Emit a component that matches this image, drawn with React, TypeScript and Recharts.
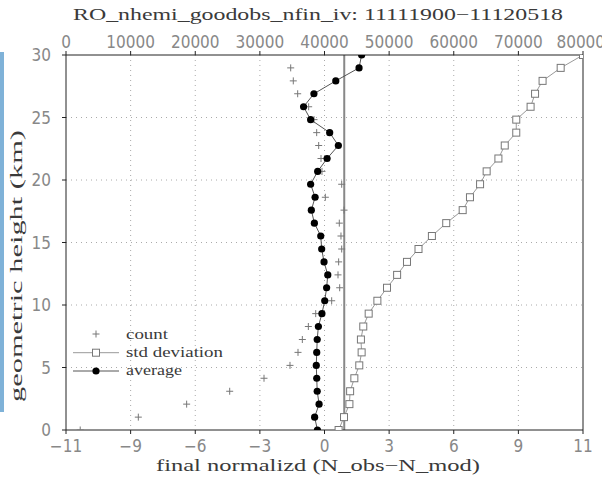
import { ScatterChart, Scatter, XAxis, YAxis, CartesianGrid, ReferenceLine } from 'recharts';

// levels (km) where the profile was sampled
const heights = [0, 1.03, 2.07, 3.1, 4.14, 5.17, 6.21, 7.24, 8.28, 9.31, 10.34, 11.38, 12.41, 13.45, 14.48, 15.52, 16.55, 17.59, 18.62, 19.66, 20.69, 21.72, 22.76, 23.79, 24.83, 25.86, 26.9, 27.93, 28.97, 30];
const average = [-0.3, -0.42, -0.23, -0.31, -0.33, -0.35, -0.33, -0.31, -0.26, -0.11, 0.01, 0.09, 0.14, -0.02, -0.12, -0.16, -0.43, -0.56, -0.4, -0.59, -0.29, 0.11, 0.59, 0.22, -0.59, -0.89, -0.45, 0.48, 1.47, 1.58];
const stdDev = [0.6, 0.83, 1.06, 1.09, 1.27, 1.48, 1.58, 1.55, 1.65, 1.88, 2.25, 2.66, 3.09, 3.51, 4.0, 4.57, 5.18, 5.88, 6.19, 6.62, 6.9, 7.4, 7.67, 8.16, 8.16, 8.77, 8.96, 9.28, 10.05, 11.0];
const count: (number | null)[] = [2200, 11190, 18670, 25330, 30640, 34660, 35900, 36570, 37500, 38640, 41110, 42350, 42090, 42190, 42660, 42550, 42290, 43020, 40130, 42660, 39610, 39460, 39100, 38790, 38380, 37550, 35850, 35170, 34770, null];

const bottomTicks = [-11, -8.25, -5.5, -2.75, 0, 2.75, 5.5, 8.25, 11];
const bottomLabels = ['-11', '-9', '-6', '-3', '0', '3', '6', '9', '11'];
const topTicks = [0, 10000, 20000, 30000, 40000, 50000, 60000, 70000, 80000];
const heightTicks = [0, 5, 10, 15, 20, 25, 30];
const refX = 0.84;

const avgRows = heights.map((h, i) => ({ h, v: average[i] }));
const stdRows = heights.map((h, i) => ({ h, v: stdDev[i] }));
const countRows = heights
  .map((h, i) => ({ h, c: count[i] }))
  .filter((r) => r.c !== null);

const tickFont = "'Liberation Sans Narrow', 'DejaVu Sans Condensed', 'Liberation Sans', sans-serif";
const tickStyle = { fontFamily: tickFont, fontSize: 17, fill: '#888' };
const serif = "'Liberation Serif', 'DejaVu Serif', serif";
const textCol = '#3a3a3a';

const Plus = (p: any) => (
  <g stroke="#777" strokeWidth={1}>
    <line x1={p.cx - 3.5} x2={p.cx + 3.5} y1={p.cy} y2={p.cy} />
    <line x1={p.cx} x2={p.cx} y1={p.cy - 3.5} y2={p.cy + 3.5} />
  </g>
);
const Square = (p: any) => (
  <rect x={p.cx - 3.5} y={p.cy - 3.5} width={7} height={7} fill="#fff" stroke="#777" strokeWidth={1} />
);
const Dot = (p: any) => <circle cx={p.cx} cy={p.cy} r={3.6} fill="#000" />;

export default function App() {
  return (
    <div style={{ position: 'absolute', left: 0, top: 0, width: 602, height: 481, background: '#fff' }}>
      <div style={{ position: 'absolute', left: 0, top: 52, width: 4, height: 360, background: '#7fb2d8' }} />
      <ScatterChart width={602} height={481} margin={{ top: 25, right: 19, bottom: 21, left: 26 }}>
        <CartesianGrid xAxisId="b" stroke="#aaa" strokeDasharray="1 4" verticalValues={bottomTicks.slice(1, -1)} horizontalValues={heightTicks.slice(1, -1)} />
        <XAxis
          xAxisId="b"
          type="number"
          dataKey="v"
          orientation="bottom"
          domain={[-11, 11]}
          ticks={bottomTicks}
          tickFormatter={(v: number) => bottomLabels[bottomTicks.indexOf(v)].replace('-', '\u2212')}
          height={30}
          tickSize={4}
          tickMargin={6}
          stroke="#222"
          tick={tickStyle}
          allowDataOverflow
        />
        <XAxis
          xAxisId="t"
          type="number"
          dataKey="c"
          orientation="top"
          domain={[0, 80000]}
          ticks={topTicks}
          height={30}
          tickSize={4}
          tickMargin={3}
          stroke="#222"
          tick={tickStyle}
          allowDataOverflow
        />
        <YAxis
          type="number"
          dataKey="h"
          domain={[0, 30]}
          ticks={heightTicks}
          width={40}
          tickSize={4}
          tickMargin={11}
          stroke="#222"
          tick={tickStyle}
          allowDataOverflow
        />
        <ReferenceLine xAxisId="b" x={11} stroke="#222" strokeWidth={1} />
        <ReferenceLine xAxisId="b" x={refX} stroke="#888" strokeWidth={2} />
        <Scatter xAxisId="t" data={countRows} shape={Plus} isAnimationActive={false} />
        <Scatter xAxisId="b" data={stdRows} shape={Square} line={{ stroke: '#999', strokeWidth: 1 }} isAnimationActive={false} />
        <Scatter xAxisId="b" data={avgRows} shape={Dot} line={{ stroke: '#555', strokeWidth: 1 }} isAnimationActive={false} />
      </ScatterChart>
      <svg width={602} height={481} style={{ position: 'absolute', left: 0, top: 0, pointerEvents: 'none' }}>
        <text x={73} y={20} fontFamily={serif} fontSize={17} fill={textCol} textLength={490} lengthAdjust="spacingAndGlyphs">
          RO_nhemi_goodobs_nfin_iv: 11111900−11120518
        </text>
        <text x={156} y={471} fontFamily={serif} fontSize={17} fill={textCol} textLength={324} lengthAdjust="spacingAndGlyphs">
          final normalizd (N_obs−N_mod)
        </text>
        <text
          transform="translate(22,402) rotate(-90)"
          fontFamily={serif}
          fontSize={17}
          fill={textCol}
          textLength={272}
          lengthAdjust="spacingAndGlyphs"
        >
          geometric height (km)
        </text>
        <g stroke="#777">
          <line x1={92.5} x2={99.5} y1={334} y2={334} />
          <line x1={96} x2={96} y1={330.5} y2={337.5} />
        </g>
        <line x1={73} x2={119} y1={352.7} y2={352.7} stroke="#999" />
        <rect x={92.5} y={349.2} width={7} height={7} fill="#fff" stroke="#777" />
        <line x1={73} x2={119} y1={371} y2={371} stroke="#555" />
        <circle cx={96} cy={371} r={3.6} fill="#000" />
        <text x={126} y={338.5} fontFamily={serif} fontSize={14} fill={textCol} textLength={42} lengthAdjust="spacingAndGlyphs">count</text>
        <text x={126} y={357} fontFamily={serif} fontSize={14} fill={textCol} textLength={97} lengthAdjust="spacingAndGlyphs">std deviation</text>
        <text x={126} y={375} fontFamily={serif} fontSize={14} fill={textCol} textLength={56} lengthAdjust="spacingAndGlyphs">average</text>
      </svg>
    </div>
  );
}
